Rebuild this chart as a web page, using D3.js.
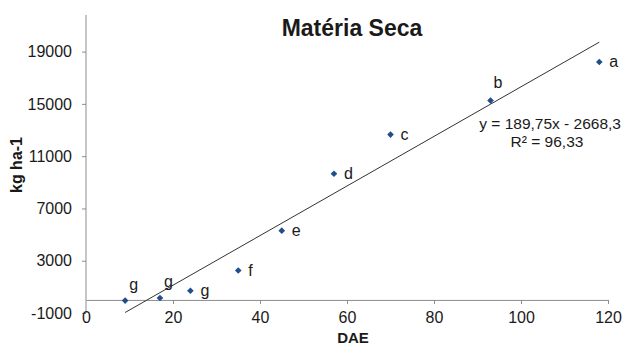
<!DOCTYPE html>
<html>
<head>
<meta charset="utf-8">
<script src="https://cdn.jsdelivr.net/npm/d3@7"></script>
<style>
    body { margin: 0; background: #fff; }
    text { font-family: "Liberation Sans", Arial, sans-serif; fill: #1a1a1a; }
    .axis path, .axis line { stroke: #8c8c8c; }
    .axis text { font-size: 16px; }
</style>
</head>
<body>
<div id="chart"></div>
<script>
// data: days after emergence vs dry matter (kg/ha)
var dae = [9, 17, 24, 35, 45, 57, 70, 93, 118];
var massaSeca = [-50, 150, 700, 2250, 5300, 9650, 12650, 15250, 18200];
var letras = ["g", "g", "g", "f", "e", "d", "c", "b", "a"];
var xTicks = [0, 20, 40, 60, 80, 100, 120];
var yTicks = [-1000, 3000, 7000, 11000, 15000, 19000];
// fitted line shown on the chart
var slope = 189.75, intercept = -2668.3;
var equacao = "y = 189,75x - 2668,3";
var r2 = "R² = 96,33";

var width = 622, height = 347;

var svg = d3.select("#chart").append("svg")
    .attr("width", width)
    .attr("height", height);

var x = d3.scaleLinear().domain([0, 120]).range([86, 608]);
var y = d3.scaleLinear().domain([-1000, 21800]).range([313, 15]);

var plain = function(d) { return String(d); };  // no thousands separator, ascii minus

// y axis
svg.append("g")
    .attr("class", "axis")
    .attr("transform", "translate(" + x(0) + ",0)")
    .call(d3.axisLeft(y).tickValues(yTicks).tickFormat(plain).tickSize(4).tickPadding(10).tickSizeOuter(0))
    .call(function(g) { g.select(".domain").attr("d", "M0," + y(-1000) + "V" + y(21800)); });

// x axis sits on y = 0
svg.append("g")
    .attr("class", "axis")
    .attr("transform", "translate(0," + y(0) + ")")
    .call(d3.axisBottom(x).tickValues(xTicks).tickFormat(plain).tickSize(4).tickPadding(8).tickSizeOuter(0))
    .call(function(g) { g.selectAll(".tick").filter(function(d) { return d === 0; }).select("line").remove(); });

// trend line across the data range
var xExt = d3.extent(dae);
svg.append("line")
    .attr("x1", x(xExt[0])).attr("y1", y(slope * xExt[0] + intercept))
    .attr("x2", x(xExt[1])).attr("y2", y(slope * xExt[1] + intercept))
    .attr("stroke", "#333")
    .attr("stroke-width", 1);

// diamond markers (square turned 45deg, like excel's)
var pts = dae.map(function(d, i) { return {x: d, y: massaSeca[i], l: letras[i]}; });
svg.selectAll(".pt")
    .data(pts)
    .enter().append("path")
    .attr("class", "pt")
    .attr("d", d3.symbol().type(d3.symbolSquare).size(22))
    .attr("transform", function(d) { return "translate(" + x(d.x) + "," + y(d.y) + ") rotate(45)"; })
    .attr("fill", "#1f4e8c");

// letter labels: the first two and "b" sit above their point, the rest to the right
svg.selectAll(".lbl")
    .data(pts)
    .enter().append("text")
    .attr("class", "lbl")
    .attr("font-size", "16px")
    .attr("x", function(d, i) { return x(d.x) + (i < 2 ? 4 : i === 7 ? 3 : 10); })
    .attr("y", function(d, i) { return y(d.y) + (i < 2 ? -11 : i === 7 ? -13 : 5); })
    .text(function(d) { return d.l; });

// equation
svg.append("text")
    .attr("x", 621).attr("y", 129)
    .attr("text-anchor", "end")
    .attr("font-size", "15.5px")
    .text(equacao);
svg.append("text")
    .attr("x", 547).attr("y", 147)
    .attr("text-anchor", "middle")
    .attr("font-size", "15.5px")
    .text(r2);

// title and axis titles
svg.append("text")
    .attr("x", 352).attr("y", 36)
    .attr("text-anchor", "middle")
    .attr("font-size", "23px")
    .attr("font-weight", "bold")
    .text("Matéria Seca");

svg.append("text")
    .attr("x", 353).attr("y", 343)
    .attr("text-anchor", "middle")
    .attr("font-size", "15px")
    .attr("font-weight", "bold")
    .text("DAE");

svg.append("text")
    .attr("transform", "translate(22,165) rotate(-90)")
    .attr("text-anchor", "middle")
    .attr("font-size", "16px")
    .attr("font-weight", "bold")
    .text("kg  ha-1");
</script>
</body>
</html>
